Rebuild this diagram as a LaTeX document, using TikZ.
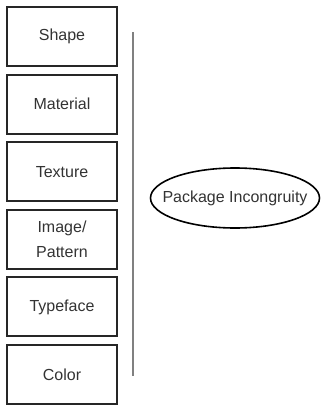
\documentclass[tikz,border=0pt]{standalone}
\usepackage{fontspec}
\setmainfont{Liberation Sans}
\usetikzlibrary{shapes.geometric}
\definecolor{txt}{HTML}{333333}
\definecolor{vline}{HTML}{808080}
\begin{document}
\begin{tikzpicture}[x=1bp,y=-1bp,
  box/.style={draw=black!85,line width=2bp,minimum width=110bp,minimum height=59bp,inner sep=0pt,
    text=txt,font=\fontsize{16bp}{25bp}\selectfont,align=center},
  oval/.style={ellipse,draw=black,line width=1.6bp,minimum width=169bp,minimum height=60bp,inner sep=0pt},
  ovaltext/.style={text=txt,font=\fontsize{16bp}{19bp}\selectfont,inner sep=0pt}]
\useasboundingbox (0,0) rectangle (323,406);
\node[box] (shape) at (62,36.5) {Shape};
\node[box] (material) at (62,104.1) {Material};
\node[box] (texture) at (62,171.7) {Texture};
\node[box] (image) at (62,239.3) {Image/\\Pattern};
\node[box] (typeface) at (62,306.9) {Typeface};
\node[box] (color) at (62,374.5) {Color};
\coordinate (lt) at (133,32);
\coordinate (lb) at (133,376);
\draw[vline,line width=1.5bp] (lt) -- (lb);
\node[oval] (pi) at (235,198) {};
\node[ovaltext] (pitext) at (pi.center) {Package Incongruity};
\end{tikzpicture}
\end{document}
